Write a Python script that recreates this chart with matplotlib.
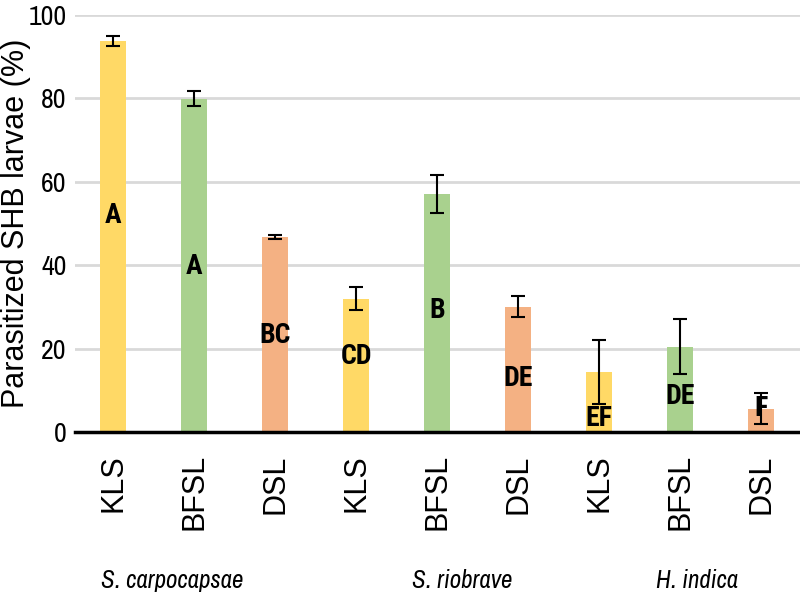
import matplotlib
matplotlib.use("Agg")
import matplotlib.pyplot as plt
import matplotlib.transforms as mtransforms

# datos
tratamientos = ["KLS", "BFSL", "DSL", "KLS", "BFSL", "DSL", "KLS", "BFSL", "DSL"]
parasitadas = [93.8, 79.9, 46.8, 32.0, 57.0, 30.0, 14.4, 20.5, 5.6]
errores = [1.2, 1.8, 0.4, 2.7, 4.6, 2.5, 7.6, 6.5, 3.7]
letras = ["A", "A", "BC", "CD", "B", "DE", "EF", "DE", "F"]
altura_letras = [52, 39.6, 23.2, 18.0, 29.2, 12.8, 3.2, 8.4, 5.6]
especies = ["S. carpocapsae", "S. riobrave", "H. indica"]

colores = {"KLS": "#FFD966", "BFSL": "#A9D18E", "DSL": "#F4B183"}

normal = ["Liberation Sans", "Arimo", "Roboto", "DejaVu Sans"]
angosta = ["Liberation Sans Narrow", "Archivo Narrow", "Roboto Condensed", "DejaVu Sans"]
angosta_negrita = ["Liberation Sans Narrow", "Roboto Condensed", "Fira Sans Condensed", "DejaVu Sans"]

fig = plt.figure(figsize=(8, 6), dpi=100)
ax = fig.add_axes([0.094, 0.28, 0.906, 0.695])

x = list(range(len(parasitadas)))
ax.bar(x, parasitadas, width=0.32, color=[colores[t] for t in tratamientos], zorder=2)
ax.errorbar(x, parasitadas, yerr=errores, fmt="none", ecolor="black",
            elinewidth=1.5, capsize=5, capthick=1.5, zorder=3)

for xi, letra, yl in zip(x, letras, altura_letras):
    ax.text(xi, yl, letra, ha="center", va="center", fontsize=20,
            fontweight="bold", family=angosta_negrita, zorder=4)

ax.set_xlim(-0.47, 8.48)
ax.set_ylim(0, 100)
ax.set_yticks([0, 20, 40, 60, 80, 100])
ax.set_yticklabels(["0", "20", "40", "60", "80", "100"], family=angosta, fontsize=20)
ax.set_xticks(x)
ax.set_xticklabels(tratamientos, rotation=90, family=normal, fontsize=22)
ax.tick_params(axis="both", length=0)
ax.tick_params(axis="x", pad=16)
ax.tick_params(axis="y", pad=6)

ax.grid(axis="y", color="#d9d9d9", linewidth=2, zorder=0)
ax.set_axisbelow(True)
for lado in ["top", "right", "left"]:
    ax.spines[lado].set_visible(False)
ax.spines["bottom"].set_linewidth(2.5)
ax.spines["bottom"].set_zorder(5)

ax.set_ylabel("Parasitized SHB larvae (%)", family=normal, fontsize=22)
ax.yaxis.set_label_coords(-0.061, 0.5)

trans = mtransforms.blended_transform_factory(ax.transData, ax.transAxes)
for xe, nombre in zip([0.73, 4.31, 7.21], especies):
    ax.text(xe, -0.355, nombre, transform=trans, ha="center", va="center",
            fontsize=18, style="italic", family=angosta)

fig.savefig("out.png", dpi=100)
